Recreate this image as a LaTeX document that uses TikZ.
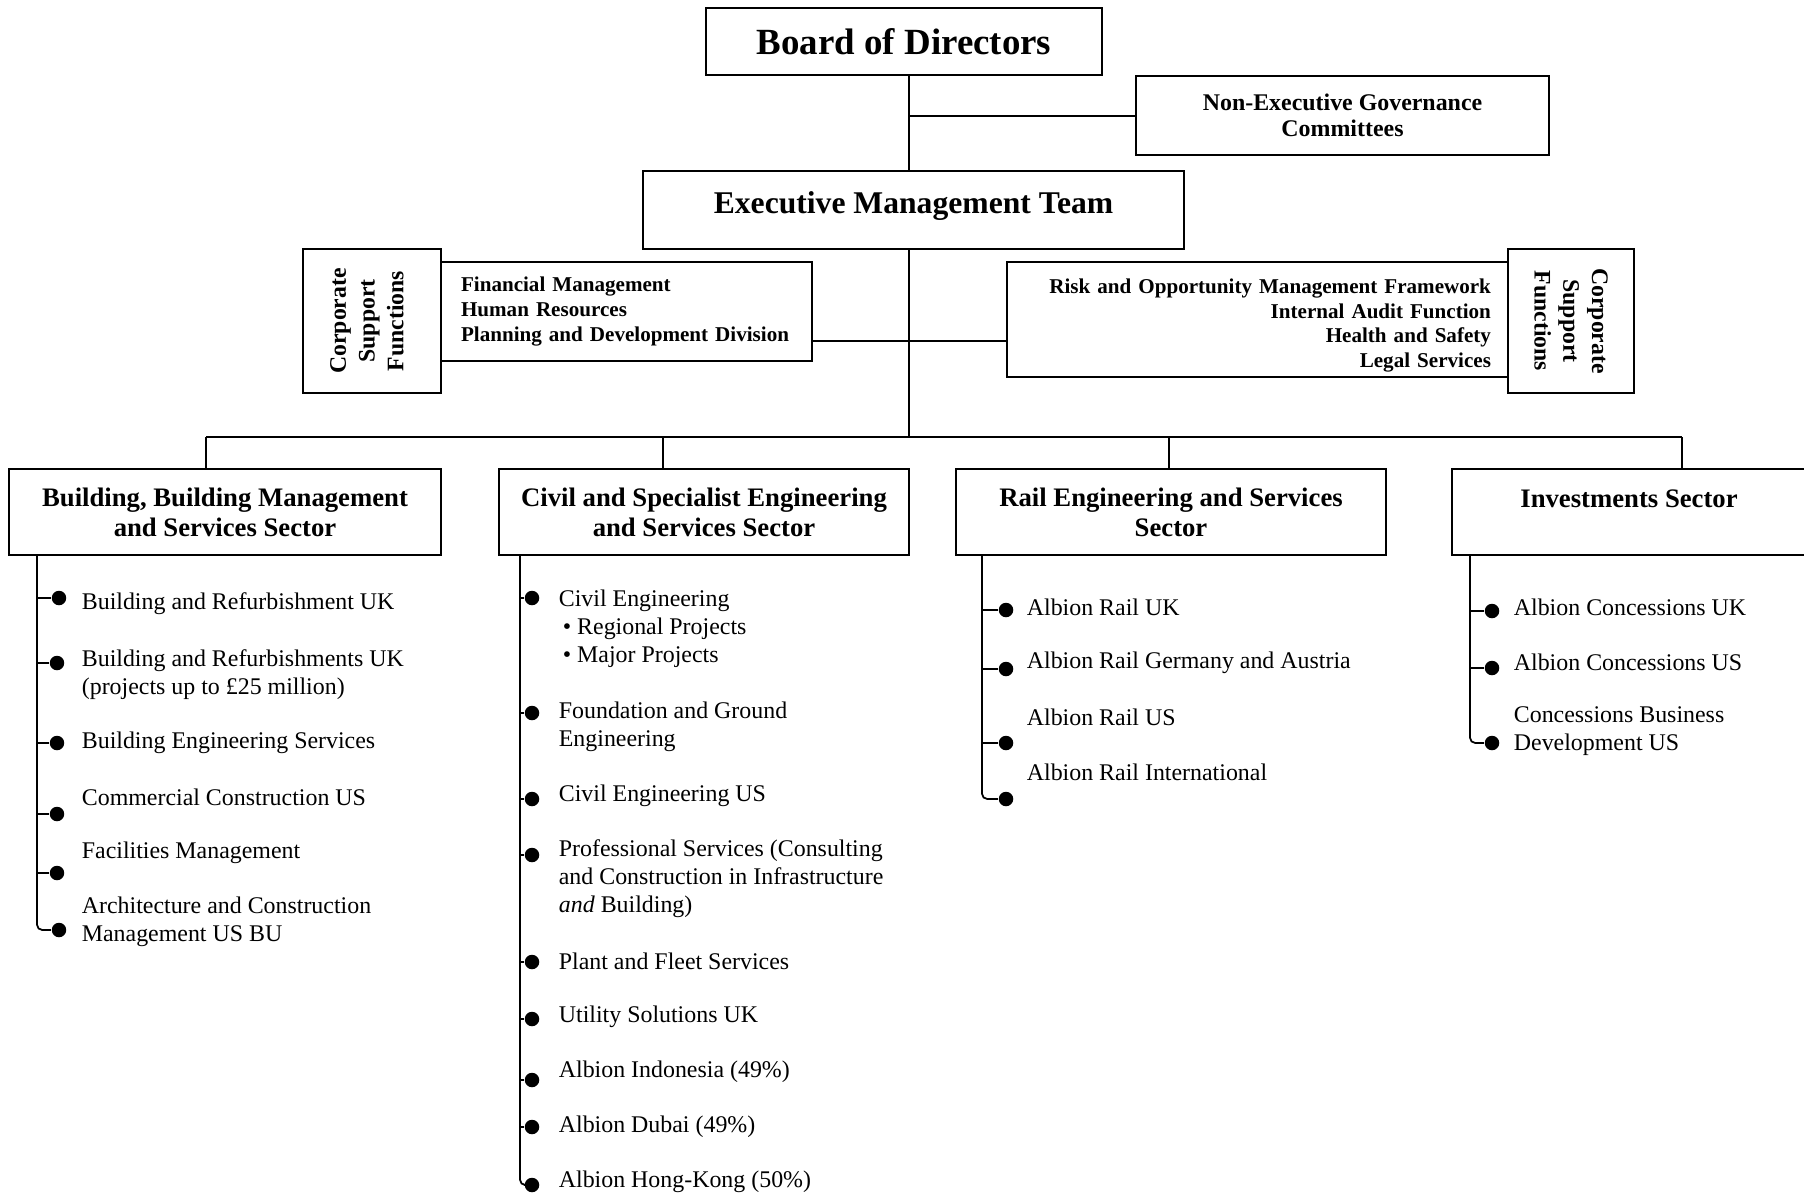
\documentclass[tikz,border=0pt]{standalone}
\usepackage{fontspec}
\setmainfont{Liberation Serif}
\usepackage{tikz}

\begin{document}
\begin{tikzpicture}[x=0.02cm,y=-0.02cm,line width=1pt,
  box/.style={draw,line width=1.1pt,inner sep=0pt,align=center},
  sector/.style={box,minimum height=1.72cm,font=\fontsize{15.2}{17}\selectfont\bfseries},
  csf/.style={box,minimum width=2.88cm,font=\fontsize{13.5}{16.4}\selectfont\bfseries},
  duty/.style={box,inner xsep=0.4cm,font=\fontsize{12}{14}\selectfont\bfseries},
  dot/.style={circle,fill,inner sep=0pt,minimum size=0.29cm},
  item/.style={anchor=west,align=left,inner sep=0pt,font=\fontsize{13.6}{16}\selectfont}]
\useasboundingbox (0,0) rectangle (1804,1197);

\node[box,minimum width=7.92cm,minimum height=1.34cm,font=\fontsize{21}{25}\selectfont\bfseries] (board) at (904,41.5) {Board of Directors};
\node[box,minimum width=8.26cm,minimum height=1.58cm,font=\fontsize{13.6}{14.8}\selectfont\bfseries] (negc) at (1342.5,115.5) {Non-Executive Governance\\Committees};
\node[box,minimum width=10.82cm,minimum height=1.56cm,text height=0.44cm,text depth=0.3cm,font=\fontsize{18}{22}\selectfont\bfseries] (emt) at (913.5,210) {Executive Management Team};

\node[csf,rotate=90,minimum height=2.76cm] (csfL) at (372,321) {Corporate\\Support\\Functions\rule[-6pt]{0pt}{0pt}};
\node[duty,minimum height=1.98cm,text width=6.62cm,align=left] (listL) at (626.5,311.5) {Financial Management\\Human Resources\\Planning and Development Division};
\node[duty,inner xsep=0.34cm,minimum height=2.3cm,text width=9.34cm,align=right] (listR) at (1257.5,319.5) {\rule{0pt}{15pt}Risk and Opportunity Management Framework\\Internal Audit Function\\Health and Safety\\Legal Services};
\node[csf,rotate=-90,minimum height=2.52cm] (csfR) at (1571,321) {Corporate\\Support\\Functions};

\node[sector,minimum width=8.64cm] (s1) at (225,512) {Building, Building Management\\and Services Sector};
\node[sector,minimum width=8.2cm] (s2) at (704,512) {Civil and Specialist Engineering\\and Services Sector};
\node[sector,minimum width=8.6cm] (s3) at (1171,512) {Rail Engineering and Services\\Sector};
\node[sector,minimum width=7.08cm,text height=0.37cm,text depth=0.57cm] (s4) at (1629,512) {Investments Sector};

\coordinate (t) at (909,116);
\coordinate (mid) at (909,341);
\coordinate (bus) at (909,437);
\coordinate (k1) at (206,437);
\coordinate (k2) at (663,437);
\coordinate (k3) at (1169,437);
\coordinate (k4) at (1682,437);

\draw (board.south -| t) -- (emt.north -| t);
\draw (t) -- (t -| negc.west);
\draw (emt.south -| bus) -- (bus);
\draw (listL.east |- mid) -- (listR.west |- mid);
\draw (k1) -- (k4);
\draw (k1) -- (k1 |- s1.north);
\draw (k2) -- (k2 |- s2.north);
\draw (k3) -- (k3 |- s3.north);
\draw (k4) -- (k4 |- s4.north);

\coordinate (p1) at (37,555);
\node[dot] (a1) at (59,598) {};
\node[dot] (a2) at (57,663) {};
\node[dot] (a3) at (57,743) {};
\node[dot] (a4) at (57,814) {};
\node[dot] (a5) at (57,873) {};
\node[dot] (a6) at (59,930) {};
\draw[rounded corners=3pt] (p1) |- (a6);
\draw (a1) -- (a1 -| p1) (a2) -- (a2 -| p1) (a3) -- (a3 -| p1) (a4) -- (a4 -| p1) (a5) -- (a5 -| p1);
\node[item] (ta1) at (81,604) {Building and Refurbishment UK};
\node[item] (ta2) at (81,674.5) {Building and Refurbishments UK\\(projects up to £25 million)};
\node[item] (ta3) at (81,743) {Building Engineering Services};
\node[item] (ta4) at (81,797) {Commercial Construction US};
\node[item] (ta5) at (81,853) {Facilities Management};
\node[item] (ta6) at (81,921.5) {Architecture and Construction\\Management US BU};

\coordinate (p2) at (520,555);
\node[dot] (b1) at (532,598) {};
\node[dot] (b2) at (532,713) {};
\node[dot] (b3) at (532,799) {};
\node[dot] (b4) at (532,855) {};
\node[dot] (b5) at (532,962) {};
\node[dot] (b6) at (532,1019) {};
\node[dot] (b7) at (532,1080) {};
\node[dot] (b8) at (532,1127) {};
\node[dot] (b9) at (532,1185) {};
\draw[rounded corners=3pt] (p2) |- (b9);
\draw (b1) -- (b1 -| p2) (b2) -- (b2 -| p2) (b3) -- (b3 -| p2) (b4) -- (b4 -| p2) (b5) -- (b5 -| p2) (b6) -- (b6 -| p2) (b7) -- (b7 -| p2) (b8) -- (b8 -| p2);
\node[item] (tb1) at (558,628.5) {Civil Engineering\\\,\textbullet\ Regional Projects\\\,\textbullet\ Major Projects};
\node[item] (tb2) at (558,727) {Foundation and Ground\\Engineering};
\node[item] (tb3) at (558,796) {Civil Engineering US};
\node[item] (tb4) at (558,879) {Professional Services (Consulting\\and Construction in Infrastructure\\\textit{and} Building)};
\node[item] (tb5) at (558,961) {Plant and Fleet Services};
\node[item] (tb6) at (558,1017) {Utility Solutions UK};
\node[item] (tb7) at (558,1072) {Albion Indonesia (49\%)};
\node[item] (tb8) at (558,1127) {Albion Dubai (49\%)};
\node[item] (tb9) at (558,1182) {Albion Hong-Kong (50\%)};

\coordinate (p3) at (982,555);
\node[dot] (c1) at (1006,610) {};
\node[dot] (c2) at (1006,669) {};
\node[dot] (c3) at (1006,743) {};
\node[dot] (c4) at (1006,799) {};
\draw[rounded corners=3pt] (p3) |- (c4);
\draw (c1) -- (c1 -| p3) (c2) -- (c2 -| p3) (c3) -- (c3 -| p3);
\node[item] (tc1) at (1026,607) {Albion Rail UK};
\node[item] (tc2) at (1026,663) {Albion Rail Germany and Austria};
\node[item] (tc3) at (1026,717) {Albion Rail US};
\node[item] (tc4) at (1026,772) {Albion Rail International};

\coordinate (p4) at (1470,555);
\node[dot] (d1) at (1492,611) {};
\node[dot] (d2) at (1492,668) {};
\node[dot] (d3) at (1492,743) {};
\draw[rounded corners=3pt] (p4) |- (d3);
\draw (d1) -- (d1 -| p4) (d2) -- (d2 -| p4);
\node[item] (td1) at (1513,607) {Albion Concessions UK};
\node[item] (td2) at (1513,662) {Albion Concessions US};
\node[item] (td3) at (1513,731.5) {Concessions Business\\Development US};
\end{tikzpicture}
\end{document}
